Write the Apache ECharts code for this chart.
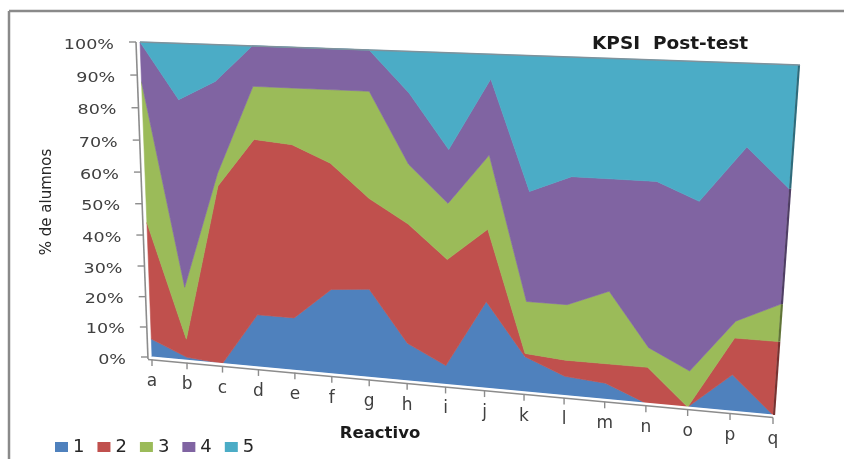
<!DOCTYPE html>
<html>
<head>
<meta charset="utf-8">
<title>KPSI Post-test</title>
<script src="https://cdn.jsdelivr.net/npm/echarts/dist/echarts.min.js"></script>
<style>
  html, body { margin: 0; padding: 0; background: #ffffff; }
  #chart { width: 844px; height: 459px; }
</style>
</head>
<body>
<div id="chart"></div>
<script>
// Items (x axis) and the share of students at each KPSI level (1..5), in %.
const categories = ['a','b','c','d','e','f','g','h','i','j','k','l','m','n','o','p','q'];
const level1 = [6, 1, 0, 17, 17, 27, 28, 12, 6, 27, 11, 6, 5, 0, 0, 11, 0];
const level2 = [38, 6, 57, 55, 54, 39, 28, 37, 33, 22, 1, 5, 6, 11, 0, 11, 22];
const level3 = [44, 17, 4, 16, 17, 22, 32, 18, 17, 22, 16, 17, 22, 6, 11, 5, 11];
const level4 = [12, 59, 28, 12, 12, 12, 12, 21, 16, 22, 33, 38, 33, 49, 50, 50, 33];
const level5 = [0, 17, 11, 0, 0, 0, 0, 12, 28, 7, 39, 34, 34, 34, 39, 23, 34];
const seriesNames = ['1', '2', '3', '4', '5'];
const yTickValues = [0, 10, 20, 30, 40, 50, 60, 70, 80, 90, 100];
const yTickLabels = ['0%', '10%', '20%', '30%', '40%', '50%', '60%', '70%', '80%', '90%', '100%'];

const palette = ['#4F81BD', '#C0504D', '#9BBB59', '#8064A2', '#4BACC6'];
const levels = [level1, level2, level3, level4, level5];

// 100% stacking: cumulative boundaries per category
const cumulative = [categories.map(() => 0)];
levels.forEach((arr, k) => {
  cumulative.push(arr.map((v, i) => {
    const total = levels.reduce((s, a) => s + a[i], 0);
    return cumulative[k][i] + v / total * 100;
  }));
});

// Perspective of the 3D plot: corners of the data floor/wall in pixels
const plotQuad = { tl: [140, 42], tr: [798, 65], br: [773, 415], bl: [152, 357] };

function buildHomography(q) {
  const [x0, y0] = q.tl, [x1, y1] = q.tr, [x2, y2] = q.br, [x3, y3] = q.bl;
  const dx1 = x1 - x2, dx2 = x3 - x2, dx3 = x0 - x1 + x2 - x3;
  const dy1 = y1 - y2, dy2 = y3 - y2, dy3 = y0 - y1 + y2 - y3;
  const den = dx1 * dy2 - dx2 * dy1;
  const g = (dx3 * dy2 - dx2 * dy3) / den;
  const h = (dx1 * dy3 - dx3 * dy1) / den;
  const a = x1 - x0 + g * x1, b = x3 - x0 + h * x3, c = x0;
  const d = y1 - y0 + g * y1, e = y3 - y0 + h * y3, f = y0;
  return (u, v) => {
    const w = g * u + h * v + 1;
    return [(a * u + b * v + c) / w, (d * u + e * v + f) / w];
  };
}
const warp = buildHomography(plotQuad);

// map a point from the flat cartesian grid onto the tilted plot
function project(cs, pt) {
  const u = (pt[0] - cs.x) / cs.width;
  const v = (pt[1] - cs.y) / cs.height;
  return warp(u, v);
}

function darken(hex, k) {
  const n = parseInt(hex.slice(1), 16);
  const r = Math.round(((n >> 16) & 255) * k);
  const g = Math.round(((n >> 8) & 255) * k);
  const b = Math.round((n & 255) * k);
  return 'rgb(' + r + ',' + g + ',' + b + ')';
}

function layerRenderer(k) {
  return function (params, api) {
    const cs = params.coordSys;
    const color = api.visual('color');
    const upper = [], lower = [];
    categories.forEach((c, i) => {
      upper.push(project(cs, api.coord([i, cumulative[k + 1][i]])));
      lower.push(project(cs, api.coord([i, cumulative[k][i]])));
    });
    const pts = upper.concat(lower.slice().reverse());
    const last = categories.length - 1;
    return {
      type: 'group',
      children: [
        { type: 'polygon', shape: { points: pts },
          style: { fill: color, stroke: color, lineWidth: 0.6 } },
        { type: 'line',
          shape: { x1: upper[last][0] + 1, y1: upper[last][1], x2: lower[last][0] + 1, y2: lower[last][1] },
          style: { stroke: darken(palette[k], 0.62), lineWidth: 2.2 } }
      ]
    };
  };
}

const labelFont = '"DejaVu Sans", sans-serif';

function axesRenderer(params, api) {
  const cs = params.coordSys;
  const children = [];
  const last = categories.length - 1;

  // back edge along the top
  const t0 = project(cs, api.coord([0, 100]));
  const t1 = project(cs, api.coord([last, 100]));
  children.push({ type: 'line', shape: { x1: t0[0], y1: t0[1], x2: t1[0] + 2, y2: t1[1] },
    style: { stroke: '#7f929c', lineWidth: 1.6 } });

  // vertical axis
  const v0 = project(cs, api.coord([0, 0]));
  const v1 = project(cs, api.coord([0, 100]));
  children.push({ type: 'line', shape: { x1: v1[0] - 4, y1: v1[1], x2: v0[0] - 4, y2: v0[1] + 2 },
    style: { stroke: '#8c8c8c', lineWidth: 1.6 } });
  yTickValues.forEach((t, idx) => {
    const p = project(cs, api.coord([0, t]));
    children.push({ type: 'line', shape: { x1: p[0] - 4, y1: p[1], x2: p[0] - 11, y2: p[1] },
      style: { stroke: '#8c8c8c', lineWidth: 1.4 } });
    children.push({ type: 'text', x: p[0] - 26, y: p[1] + 3, scaleX: 1.3,
      style: { text: yTickLabels[idx], fill: '#404040', font: '13.5px ' + labelFont,
        align: 'right', verticalAlign: 'middle' } });
  });

  // floor edge and category axis
  const floor = categories.map((c, i) => project(cs, api.coord([i, 0])));
  const b0 = floor[0], b1 = floor[last];
  children.push({ type: 'line', shape: { x1: b0[0], y1: b0[1] + 0.5, x2: b1[0], y2: b1[1] + 0.5 },
    style: { stroke: '#ffffff', lineWidth: 2.2 } });
  children.push({ type: 'line', shape: { x1: b0[0] - 4, y1: b0[1] + 2.5, x2: b1[0], y2: b1[1] + 2.5 },
    style: { stroke: '#8c8c8c', lineWidth: 1.6 } });
  floor.forEach((p, i) => {
    children.push({ type: 'line', shape: { x1: p[0], y1: p[1] + 2.5, x2: p[0], y2: p[1] + 9 },
      style: { stroke: '#8c8c8c', lineWidth: 1.4 } });
    children.push({ type: 'text', x: p[0], y: p[1] + 24.5,
      style: { text: categories[i], fill: '#404040', font: '17px ' + labelFont,
        align: 'center', verticalAlign: 'middle' } });
  });
  return { type: 'group', children: children };
}

const series = seriesNames.map((name, k) => ({
  name: name,
  type: 'custom',
  coordinateSystem: 'cartesian2d',
  renderItem: layerRenderer(k),
  data: [[0, 0]],
  z: 2,
  silent: true
}));
series.push({
  name: 'axes',
  type: 'custom',
  coordinateSystem: 'cartesian2d',
  renderItem: axesRenderer,
  data: [[0, 0]],
  z: 5,
  silent: true
});

const chart = echarts.init(document.getElementById('chart'), null, { renderer: 'canvas' });
chart.setOption({
  animation: false,
  backgroundColor: '#ffffff',
  color: palette,
  grid: { left: 140, top: 42, width: 658, height: 315, containLabel: false },
  xAxis: { type: 'category', data: categories, boundaryGap: false, show: false },
  yAxis: { type: 'value', min: 0, max: 100, interval: 10, show: false },
  legend: {
    data: seriesNames.map(n => ({ name: n, icon: 'rect' })),
    left: 50, top: 433, padding: 5, itemWidth: 13, itemHeight: 10, itemGap: 13,
    textStyle: { fontSize: 18, fontFamily: labelFont, color: '#262626' },
    selectedMode: false
  },
  graphic: [
    { type: 'line', shape: { x1: 9, y1: 11, x2: 844, y2: 11 }, style: { stroke: '#8a8a8a', lineWidth: 2.5 } },
    { type: 'line', shape: { x1: 9, y1: 11, x2: 9, y2: 459 }, style: { stroke: '#8a8a8a', lineWidth: 2.5 } },
    { type: 'text', x: 592, y: 44,
      style: { text: 'KPSI  Post-test', fill: '#1a1a1a', font: 'bold 18.5px ' + labelFont,
        align: 'left', verticalAlign: 'middle' } },
    { type: 'text', x: 380, y: 434,
      style: { text: 'Reactivo', fill: '#1a1a1a', font: 'bold 16.5px ' + labelFont,
        align: 'center', verticalAlign: 'middle' } },
    { type: 'text', x: 47, y: 202, rotation: Math.PI / 2,
      style: { text: '% de alumnos', fill: '#262626', font: '15px ' + labelFont,
        align: 'center', verticalAlign: 'middle' } }
  ],
  series: series
});
</script>
</body>
</html>
